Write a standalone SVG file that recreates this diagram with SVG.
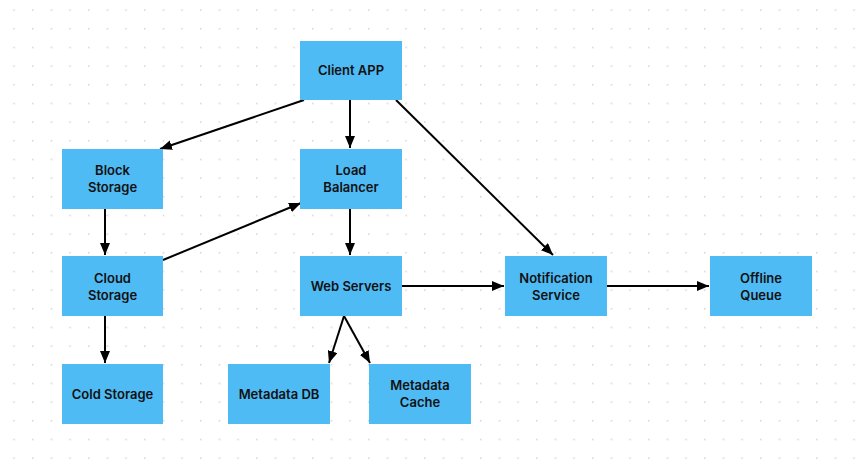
<svg xmlns="http://www.w3.org/2000/svg" width="864" height="460" viewBox="0 0 864 460">
<defs>
<pattern id="dots" x="13.3" y="9.3" width="18.667" height="18.667" patternUnits="userSpaceOnUse">
<circle cx="0.7" cy="0.7" r="0.9" fill="#d4d4d4"/>
</pattern>
<marker id="arr" viewBox="0 0 12 10" refX="12" refY="5" markerWidth="12" markerHeight="10" markerUnits="userSpaceOnUse" orient="auto">
<path d="M0,0 L12,5 L0,10 Z" fill="#000"/>
</marker>
<style>
.n rect{fill:#4fbbf5}
.n text{font-family:Inter,"Liberation Sans",sans-serif;font-weight:600;font-size:13px;fill:#111;text-anchor:middle}
#edges line{stroke:#000;stroke-width:2;marker-end:url(#arr)}
</style>
</defs>
<rect width="864" height="460" fill="#fff"/>
<rect x="0" y="0" width="864" height="460" fill="url(#dots)"/>
<g id="edges">
<line x1="304" y1="100" x2="160" y2="149"/>
<line x1="350" y1="100" x2="350" y2="148"/>
<line x1="396" y1="100" x2="553" y2="255"/>
<line x1="105" y1="209" x2="105" y2="255"/>
<line x1="163" y1="260" x2="301" y2="203"/>
<line x1="350" y1="209" x2="350" y2="255"/>
<line x1="402" y1="286" x2="504" y2="286"/>
<line x1="607" y1="286" x2="709" y2="286"/>
<line x1="105" y1="316" x2="105" y2="363"/>
<line x1="344" y1="316" x2="329" y2="363"/>
<line x1="344" y1="316" x2="370" y2="363"/>
</g>
<g id="client" class="n"><rect x="300" y="41" width="102" height="59"/><text x="351" y="75">Client APP</text></g>
<g id="block" class="n"><rect x="62" y="149" width="101" height="60"/><text x="112.5" y="175">Block</text><text x="112.5" y="192">Storage</text></g>
<g id="lb" class="n"><rect x="300" y="149" width="102" height="60"/><text x="351" y="175">Load</text><text x="351" y="192">Balancer</text></g>
<g id="cloud" class="n"><rect x="62" y="256" width="101" height="60"/><text x="112.5" y="283">Cloud</text><text x="112.5" y="300">Storage</text></g>
<g id="web" class="n"><rect x="300" y="256" width="102" height="60"/><text x="351" y="291">Web Servers</text></g>
<g id="notif" class="n"><rect x="505" y="256" width="102" height="60"/><text x="556" y="283">Notification</text><text x="556" y="300">Service</text></g>
<g id="offline" class="n"><rect x="710" y="256" width="102" height="60"/><text x="761" y="283">Offline</text><text x="761" y="300">Queue</text></g>
<g id="cold" class="n"><rect x="62" y="364" width="101" height="60"/><text x="112.5" y="399">Cold Storage</text></g>
<g id="mdb" class="n"><rect x="228" y="364" width="102" height="60"/><text x="279" y="399">Metadata DB</text></g>
<g id="mcache" class="n"><rect x="369" y="364" width="102" height="60"/><text x="420" y="390">Metadata</text><text x="420" y="407">Cache</text></g>
</svg>
